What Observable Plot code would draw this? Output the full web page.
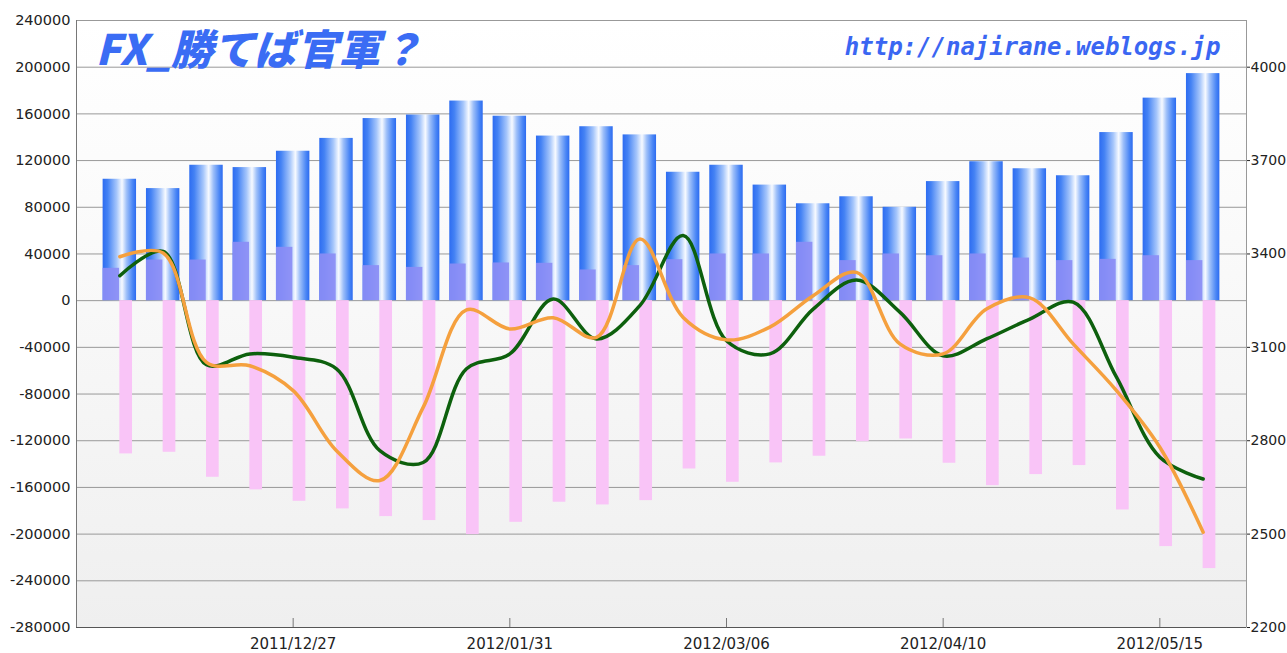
<!DOCTYPE html>
<html><head><meta charset="utf-8">
<script src="https://cdn.jsdelivr.net/npm/d3@7"></script>
<script src="https://cdn.jsdelivr.net/npm/@observablehq/plot@0.6"></script>
<style>body{margin:0;background:#fff;} #chart{width:1287px;height:653px;}</style>
</head><body><div id="chart"></div>
<script>
// ---- data ----
const weeks = ["2011/11/29","2011/12/06","2011/12/13","2011/12/20","2011/12/27","2012/01/03","2012/01/10","2012/01/17","2012/01/24","2012/01/31","2012/02/07","2012/02/14","2012/02/21","2012/02/28","2012/03/06","2012/03/13","2012/03/20","2012/03/27","2012/04/03","2012/04/10","2012/04/17","2012/04/24","2012/05/01","2012/05/08","2012/05/15","2012/05/22"];
const totalBars = [104000, 96000, 116000, 114000, 128000, 139000, 156000, 159000, 171000, 158000, 141000, 149000, 142000, 110000, 116000, 99000, 83000, 89000, 80000, 102000, 119000, 113000, 107000, 144000, 173500, 194500];
const overlayBars = [27700, 34800, 34800, 50000, 45700, 40000, 30000, 28500, 31400, 32300, 32000, 26300, 30000, 35100, 40000, 40000, 50000, 34300, 40000, 38500, 40000, 36500, 34300, 35400, 38500, 34300];
const negativeBars = [-131300, -129900, -151300, -162100, -171900, -178400, -185000, -188400, -200400, -189900, -172700, -175000, -171300, -144200, -155600, -139000, -133300, -120800, -118500, -139300, -158500, -149000, -141300, -179300, -210700, -229500];
const greenLine = [3330, 3408, 3044, 3079, 3068, 3031, 2768, 2730, 3031, 3079, 3255, 3127, 3234, 3459, 3121, 3079, 3223, 3316, 3213, 3073, 3127, 3191, 3245, 3004, 2747, 2677];
const orangeLine = [3391, 3403, 3052, 3041, 2961, 2768, 2672, 2907, 3220, 3159, 3195, 3132, 3448, 3196, 3124, 3165, 3266, 3341, 3111, 3079, 3223, 3259, 3111, 2961, 2779, 2506];
const leftTicks = [-280000, -240000, -200000, -160000, -120000, -80000, -40000, 0, 40000, 80000, 120000, 160000, 200000, 240000];
const rightTicks = [2200, 2500, 2800, 3100, 3400, 3700, 4000];
const xTickLabels = ["2011/12/27", "2012/01/31", "2012/03/06", "2012/04/10", "2012/05/15"];
const xDomainLabels = ["2011/11/22", "2012/05/29"];
const titleText = "FX_勝てば官軍？";
const urlText = "http://najirane.weblogs.jp";

// ---- helpers ----
const parse = d3.utcParse("%Y/%m/%d");
const DAY = 864e5;
const toLeft = r => (r - 3250) * 80000 / 300;       // right axis -> left axis units
const toRight = v => Math.round(v * 300 / 80000 + 3250);
const rows = weeks.map((w, i) => ({
  date: parse(w), total: totalBars[i], overlay: overlayBars[i], neg: negativeBars[i],
  green: toLeft(greenLine[i]), orange: toLeft(orangeLine[i])
}));
const xTicks = xTickLabels.map(parse);
const fmt = d3.utcFormat("%Y/%m/%d");

const chart = Plot.plot({
  width: 1287, height: 653,
  marginTop: 20, marginRight: 41, marginBottom: 26, marginLeft: 76,
  style: {fontFamily: "DejaVu Sans", background: "white", color: "#222"},
  x: {type: "utc", domain: xDomainLabels.map(parse)},
  y: {domain: [leftTicks[0], leftTicks[leftTicks.length - 1]]},
  marks: [
    Plot.frame({fill: "url(#bgGrad)", stroke: "#bdbdbd"}),
    Plot.gridY(leftTicks, {stroke: "#999", strokeOpacity: 1}),
    Plot.rectY(rows, {x1: d => new Date(+d.date - 2.7 * DAY), x2: d => new Date(+d.date + 2.7 * DAY), y1: 0, y2: "total", fill: "url(#blueGrad)"}),
    Plot.rectY(rows, {x1: d => new Date(+d.date - 2.7 * DAY), x2: d => new Date(+d.date - 0.05 * DAY), y1: 0, y2: "overlay", fill: "#8b8df5", fillOpacity: 0.92}),
    Plot.rectY(rows, {x1: d => new Date(+d.date), x2: d => new Date(+d.date + 2.05 * DAY), y1: 0, y2: "neg", fill: "#f9c4f7"}),
    Plot.line(rows, {x: "date", y: "green", stroke: "#0d600d", strokeWidth: 3.5, curve: "catmull-rom"}),
    Plot.line(rows, {x: "date", y: "orange", stroke: "#f5a03e", strokeWidth: 3.5, curve: "catmull-rom"}),
    Plot.ruleX([parse(xDomainLabels[0])], {stroke: "#777"}),
    Plot.ruleY([leftTicks[0]], {stroke: "#555"}),
    Plot.ruleX([parse(xDomainLabels[1])], {stroke: "#999"}),
    Plot.axisY(leftTicks, {anchor: "left", tickSize: 0, tickPadding: 6, tickFormat: d => String(d), fontSize: 14.5}),
    Plot.axisY(rightTicks.map(toLeft), {anchor: "right", tickSize: 3, tickPadding: 1, tickFormat: v => String(toRight(v)), fontSize: 14}),
    Plot.axisX(xTicks, {anchor: "bottom", tickSize: -9, tickFormat: () => "", stroke: "#777"}),
    Plot.axisX(xTicks, {anchor: "bottom", tickSize: 0, tickPadding: 11, tickFormat: d => fmt(d), fontSize: 15}),
    Plot.text([titleText], {text: d => d, frameAnchor: "top-left", dx: 19, dy: 31, textAnchor: "start", lineAnchor: "middle",
      fontSize: 42, fontWeight: 900, fontStyle: "italic", fontFamily: "Noto Sans CJK JP", fill: "#3a6cf4"}),
    Plot.text([urlText], {text: d => d, frameAnchor: "top-right", dx: -26, dy: 27, textAnchor: "end", lineAnchor: "middle",
      fontSize: 24, fontWeight: "bold", fontStyle: "italic", fontFamily: "DejaVu Sans Mono", fill: "#3a66f2"})
  ]
});
document.getElementById("chart").appendChild(chart);
const svg = chart.tagName.toLowerCase() === "svg" ? chart : chart.querySelector("svg");
const defs = document.createElementNS("http://www.w3.org/2000/svg", "defs");
defs.innerHTML = `
<linearGradient id="blueGrad" x1="0" x2="1" y1="0" y2="0">
  <stop offset="0" stop-color="#2d6cf1"/>
  <stop offset="0.15" stop-color="#4482f4"/>
  <stop offset="0.42" stop-color="#a6c6fb"/>
  <stop offset="0.58" stop-color="#f7faff"/>
  <stop offset="0.72" stop-color="#9dbff9"/>
  <stop offset="0.9" stop-color="#4a86f5"/>
  <stop offset="1" stop-color="#2c6bf0"/>
</linearGradient>
<linearGradient id="bgGrad" x1="0" x2="0" y1="0" y2="1">
  <stop offset="0" stop-color="#ffffff"/>
  <stop offset="0.3" stop-color="#fbfbfb"/>
  <stop offset="1" stop-color="#efefef"/>
</linearGradient>`;
svg.insertBefore(defs, svg.firstChild);
</script>
</body></html>
